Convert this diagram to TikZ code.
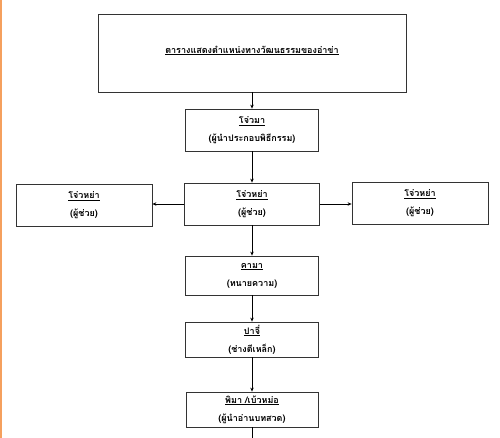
\documentclass[tikz,border=0pt]{standalone}
\usepackage{fontspec}
\newfontfamily\thaifont[Script=Thai]{Loma}
\usetikzlibrary{arrows.meta}
\definecolor{edge}{HTML}{F5A05E}
\definecolor{boxline}{HTML}{333333}
\begin{document}
\begin{tikzpicture}[x=1pt,y=-1pt,
  box/.style={draw=boxline,line width=0.8pt,fill=white,align=center,inner sep=0pt,
    font=\thaifont\bfseries\fontsize{9}{18}\selectfont},
  conn/.style={draw=black,line width=0.7pt,-{Stealth[length=4pt,width=3.5pt]}},
  plain/.style={draw=black,line width=0.7pt}]
\useasboundingbox (0,0) rectangle (500,438);
\fill[white] (0,0) rectangle (500,438);
\fill[edge] (0,0) rectangle (2,438);
% boxes
\node[box,minimum width=308pt,minimum height=78pt] (title) at (252,53) {\raisebox{7pt}{\underline{ตารางแสดงตำแหน่งทางวัฒนธรรมของอ่าข่า}}};
\node[box,minimum width=133pt,minimum height=42pt] (jm) at (252,130) {\underline{โจ่วมา}\\(ผู้นำประกอบพิธีกรรม)};
\node[box,minimum width=135pt,minimum height=42pt] (jy) at (252,204) {\underline{โจ่วหย่า}\\(ผู้ช่วย)};
\node[box,minimum width=136pt,minimum height=42pt] (jl) at (84,205) {\underline{โจ่วหย่า}\\(ผู้ช่วย)};
\node[box,minimum width=136pt,minimum height=42pt] (jr) at (420,203) {\underline{โจ่วหย่า}\\(ผู้ช่วย)};
\node[box,minimum width=133pt,minimum height=39pt] (km) at (252,275.5) {\underline{คามา}\\(ทนายความ)};
\node[box,minimum width=133pt,minimum height=35pt] (pj) at (252,339.5) {\underline{ปาจี่}\\(ช่างตีเหล็ก)};
\node[box,minimum width=132pt,minimum height=35pt] (pm) at (252,409.5) {\underline{พิมา /เบ้วหม่อ}\\(ผู้นำอ่านบทสวด)};
\coordinate (end) at (252,445);
% connectors
\draw[conn] (title.south) -- (jm.north);
\draw[conn] (jm.south) -- (jy.north);
\draw[conn] (jy.west) -- (jl.east |- jy.west);
\draw[conn] (jy.east) -- (jr.west |- jy.east);
\draw[conn] (jy.south) -- (km.north);
\draw[conn] (km.south) -- (pj.north);
\draw[conn] (pj.south) -- (pm.north);
\draw[plain] (pm.south) -- (end);
\end{tikzpicture}
\end{document}
